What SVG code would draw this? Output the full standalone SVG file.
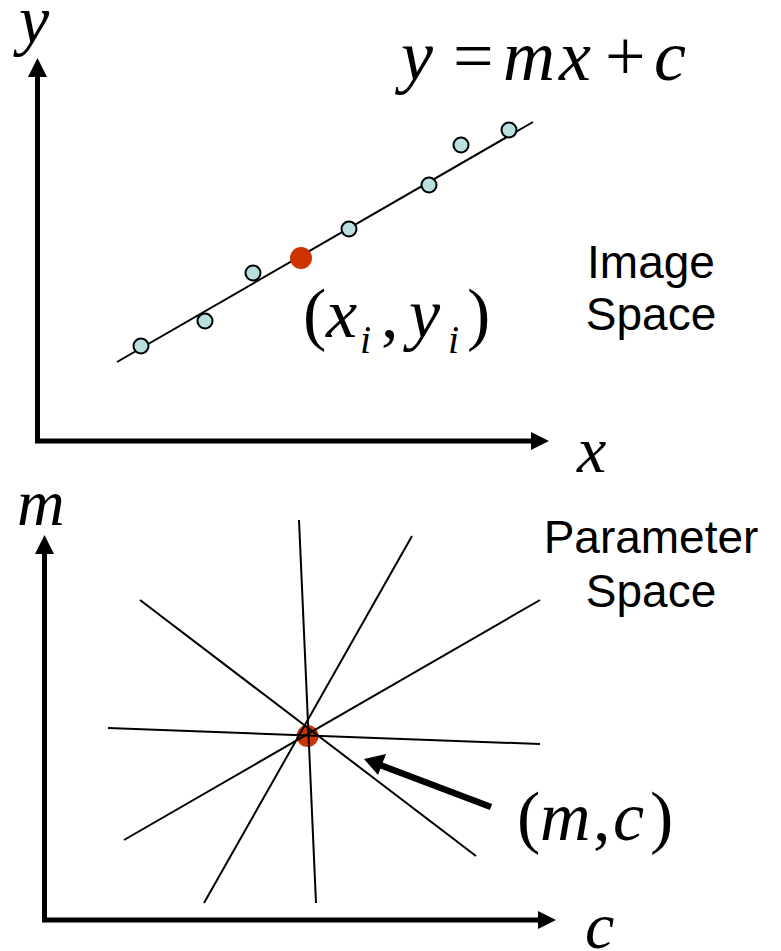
<svg xmlns="http://www.w3.org/2000/svg" width="781" height="951" viewBox="0 0 781 951">
<style>
.math{font-family:"Liberation Serif","Times New Roman",serif;font-style:italic;fill:#000}
.rm{font-family:"Liberation Serif","Times New Roman",serif;font-style:normal;fill:#000}
.lbl{font-family:"Liberation Sans",Arial,sans-serif;font-size:46px;fill:#000;text-anchor:middle}
.axis{stroke:#000;stroke-width:5;fill:none}
.thin{stroke:#000;stroke-width:2;fill:none}
.pt{fill:#b9e0e0;stroke:#000;stroke-width:2}
.red{fill:#cc3300}
</style>
<rect width="781" height="951" fill="#fff"/>
<g id="image-space">
  <g id="image-axes">
    <polyline class="axis" points="37.5,76 37.5,441 533,441"/>
    <polygon points="37.5,58 28,77 47,77" fill="#000"/>
    <polygon points="549,441 531,432 531,450" fill="#000"/>
    <text class="math" x="19" y="43" font-size="68">y</text>
    <text class="math" x="577" y="472" font-size="66">x</text>
  </g>
  <line id="fit-line" class="thin" x1="117" y1="362" x2="533" y2="122"/>
  <g id="points">
    <circle class="pt" cx="141" cy="346" r="7.5"/>
    <circle class="pt" cx="205" cy="321" r="7.5"/>
    <circle class="pt" cx="253" cy="273" r="7.5"/>
    <circle class="pt" cx="349" cy="229" r="7.5"/>
    <circle class="pt" cx="429" cy="185" r="7.5"/>
    <circle class="pt" cx="461" cy="145" r="7.5"/>
    <circle class="pt" cx="509" cy="130" r="7.5"/>
    <circle class="red" cx="301" cy="258" r="11"/>
  </g>
  <text id="equation" font-size="72" y="80"><tspan class="math" x="401">y</tspan><tspan class="rm" x="453">=</tspan><tspan class="math" x="503">m</tspan><tspan class="math" x="559">x</tspan><tspan class="rm" x="605">+</tspan><tspan class="math" x="654">c</tspan></text>
  <text id="xi-yi" font-size="70" y="337"><tspan class="rm" x="303">(</tspan><tspan class="math" x="326">x</tspan><tspan class="math" x="360" y="353" font-size="40">i</tspan><tspan class="rm" x="381" y="337">,</tspan><tspan class="math" x="409">y</tspan><tspan class="math" x="448" y="353" font-size="40">i</tspan><tspan class="rm" x="467" y="337">)</tspan></text>
  <text class="lbl" x="651" y="278">Image</text>
  <text class="lbl" x="651" y="330">Space</text>
</g>
<g id="parameter-space">
  <g id="param-axes">
    <polyline class="axis" points="44.5,552 44.5,920 540,920"/>
    <polygon points="44.5,535 35,554 54,554" fill="#000"/>
    <polygon points="556,920 538,911 538,929" fill="#000"/>
    <text class="math" x="17" y="525" font-size="66">m</text>
    <text class="math" x="585" y="948" font-size="66">c</text>
  </g>
  <circle id="intersection" class="red" cx="307.5" cy="736" r="11"/>
  <g id="param-lines">
    <line class="thin" x1="299" y1="520" x2="316" y2="903"/>
    <line class="thin" x1="412" y1="536" x2="204" y2="903"/>
    <line class="thin" x1="140" y1="600" x2="476" y2="856"/>
    <line class="thin" x1="540" y1="600" x2="124" y2="840"/>
    <line class="thin" x1="108" y1="728" x2="540" y2="744"/>
  </g>
  <g id="pointer">
    <line x1="491" y1="807" x2="380" y2="765" stroke="#000" stroke-width="6.5"/>
    <polygon points="364,759 386,754 378,775" fill="#000"/>
  </g>
  <text id="mc" font-size="70" y="840"><tspan class="rm" x="517">(</tspan><tspan class="math" x="540">m</tspan><tspan class="rm" x="593">,</tspan><tspan class="math" x="613">c</tspan><tspan class="rm" x="650">)</tspan></text>
  <text class="lbl" x="651" y="553">Parameter</text>
  <text class="lbl" x="651" y="607">Space</text>
</g>
</svg>
